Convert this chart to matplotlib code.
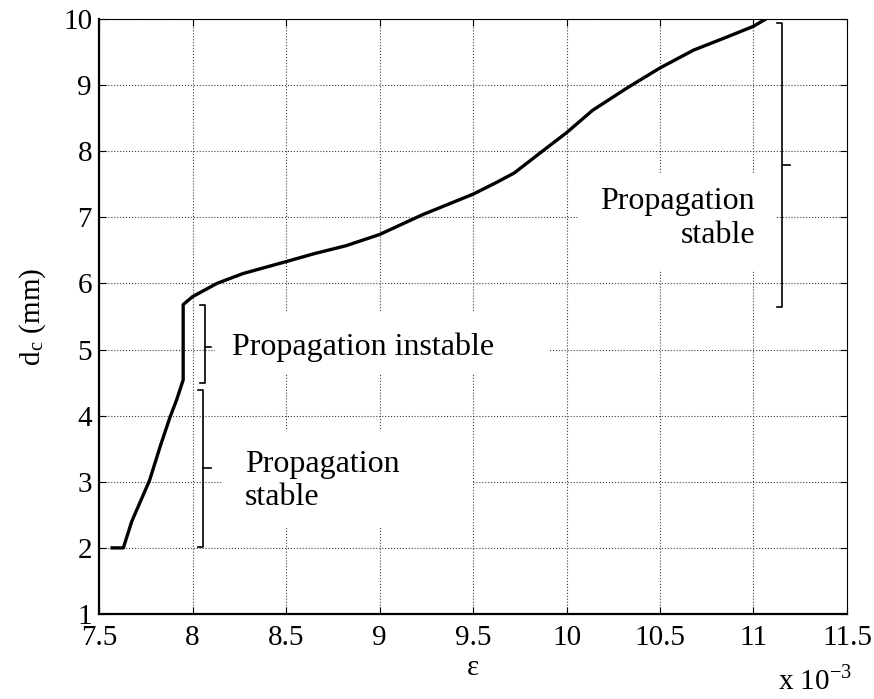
import numpy as np
import matplotlib.pyplot as plt
from matplotlib.patches import Rectangle
from matplotlib.ticker import FormatStrFormatter

# strain (x 1e-3) and critical depth d_c (mm)
eps = [7.57, 7.63, 7.675, 7.77, 7.83, 7.88, 7.915, 7.95, 7.95, 8.0,
       8.13, 8.27, 8.5, 8.65, 8.82, 9.0, 9.23, 9.5, 9.62, 9.72, 9.88, 10.0,
       10.14, 10.32, 10.5, 10.68, 10.86, 11.0, 11.06]
dc = [2.0, 2.0, 2.40, 3.02, 3.56, 3.98, 4.24, 4.54, 5.68, 5.80,
      6.0, 6.15, 6.33, 6.45, 6.57, 6.74, 7.04, 7.35, 7.52, 7.67, 8.02, 8.28,
      8.62, 8.95, 9.26, 9.53, 9.73, 9.89, 9.99]

xticks = np.arange(7.5, 11.51, 0.5)
yticks = np.arange(1, 11, 1)

plt.rcParams['font.family'] = ['Liberation Serif', 'DejaVu Serif']
plt.rcParams['mathtext.fontset'] = 'stix'
fs = 21
fs_ann = 23

fig = plt.figure(figsize=(8.74, 6.99), dpi=100)
ax = fig.add_axes([0.1133, 0.1216, 0.8558, 0.8512])

ax.plot(eps, dc, color='k', lw=2.4, zorder=5)

ax.set_xlim(7.5, 11.5)
ax.set_ylim(1, 10)
ax.set_xticks(xticks)
ax.set_yticks(yticks)
ax.xaxis.set_major_formatter(FormatStrFormatter('%g'))
ax.yaxis.set_major_formatter(FormatStrFormatter('%g'))
ax.tick_params(direction='in', length=5, width=0.8, labelsize=fs,
               top=True, right=True)
ax.tick_params(axis='x', pad=8)
ax.tick_params(axis='y', pad=5)
ax.grid(True, color='0.25', ls=':', lw=0.8)
ax.set_axisbelow(True)
for s in ['left', 'bottom']:
    ax.spines[s].set_linewidth(1.6)
for s in ['top', 'right']:
    ax.spines[s].set_linewidth(0.8)

ax.set_xlabel('ε', fontsize=fs, labelpad=3)
ax.set_ylabel(r'd$_\mathregular{c}$ (mm)', fontsize=fs, labelpad=11)
fig.text(0.890, 0.004, r'x 10$^{\mathregular{-3}}$', fontsize=fs, ha='left', va='bottom')

# white boxes behind the labels
for x0, y0, x1, y1 in [(8.12, 4.65, 9.91, 5.55), (8.163, 2.32, 9.50, 3.78),
                       (10.06, 6.20, 11.115, 7.67)]:
    ax.add_patch(Rectangle((x0, y0), x1 - x0, y1 - y0, facecolor='white',
                           edgecolor='none', zorder=2))

ax.text(8.21, 5.04, 'Propagation instable', fontsize=fs_ann, va='center', ha='left', zorder=3)
ax.text(8.28, 3.01, 'Propagation\nstable', fontsize=fs_ann, va='center', ha='left', zorder=3)
ax.text(11.008, 6.98, 'Propagation\nstable', fontsize=fs_ann, va='center', ha='right',
        multialignment='right', zorder=3)

# braces
def brace(x, y0, y1, ym, hook=0.027, tick=0.045):
    ax.plot([x - hook, x, x, x - hook], [y0, y0, y1, y1], color='k', lw=1.2, zorder=4)
    ax.plot([x, x + tick], [ym, ym], color='k', lw=1.2, zorder=4)

brace(8.056, 2.01, 4.39, 3.21)
brace(8.065, 4.49, 5.67, 5.04, tick=0.035)
brace(11.152, 5.64, 9.94, 7.79)

fig.savefig('out.png', dpi=100)
